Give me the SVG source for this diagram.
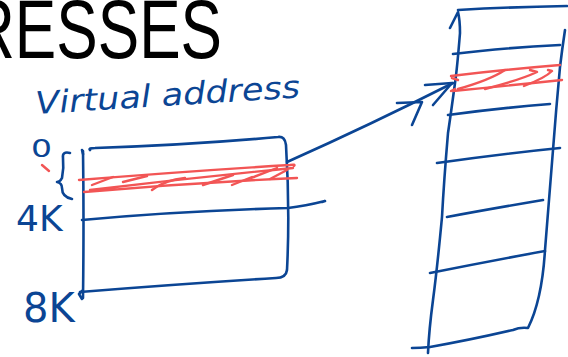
<svg xmlns="http://www.w3.org/2000/svg" width="568" height="357" viewBox="0 0 568 357">
<style>
.b{fill:none;stroke:#0b4594;stroke-width:2.6;stroke-linecap:round;stroke-linejoin:round}
.r{fill:none;stroke:#f25555;stroke-width:2.4;stroke-linecap:round;stroke-linejoin:round}
.h{font-family:"DejaVu Sans",sans-serif;font-weight:normal;fill:#0b4594}
</style>
<rect width="568" height="357" fill="#fff"/>
<text x="-30" y="58" font-family="Liberation Sans, sans-serif" font-size="84" textLength="252" lengthAdjust="spacingAndGlyphs" fill="#000">RESSES</text>
<text class="h" x="36" y="114" font-size="31" font-style="italic" textLength="265" lengthAdjust="spacingAndGlyphs" transform="rotate(-3.6 36 114)">Virtual address</text>
<g id="labels">
<text class="h" x="31" y="157" font-size="25" textLength="21" lengthAdjust="spacingAndGlyphs">0</text>
<text class="h" x="16" y="231" font-size="36">4K</text>
<text class="h" x="23" y="322" font-size="40">8K</text>
</g>
<g id="virtual">
<path class="b" d="M83,151 Q84,220 83,298"/>
<path class="b" d="M82,150 L83,154 M82,291 L79,294 L82,299"/>
<path class="b" d="M90,150 Q88,148 95,148 Q190,145 278,137 Q285,136 286,145 Q290,210 287,270 Q286,278 276,278 Q180,284 80,292"/>
<path class="b" d="M82,220 Q180,211 288,208 Q305,206 325,201 L322,202"/>
<path class="b" d="M70,153 Q62,151 63,158 Q64,168 62,178 Q60,182 57,182 Q62,183 62,188 Q62,197 72,199"/>
<path class="r" d="M42,165 L49,171"/>
<path class="r" d="M79,180 Q190,171 290,165 Q296,164 294,166 M84,192 Q190,183 297,178 M90,190 Q190,178 293,168"/>
<path class="r" d="M92,185 L113,177 M123,182 L147,176 M152,190 Q165,180 185,178 M203,185 L233,175 M232,185 L252,177 M246,180 L277,168 M270,179 L287,170"/>
</g>
<g id="connectors">
<path class="b" d="M287,162 Q370,125 453,83"/>
<path class="b" d="M425,85 L452,83 L433,105 M397,103 L422,102 L412,125"/>
</g>
<g id="physical">
<path class="b" d="M458,10 Q510,7 567,6 M450,28 L458,12 Q460,20 460,33 Q457,70 455,83 Q450,120 448,133 Q444,180 442,217 Q437,270 433,300 Q429,330 428,353"/>
<path class="b" d="M565,30 Q562,50 560,67 Q556,110 553,150 Q549,200 545,250 Q542,300 528,328 Q520,327 513,330 Q470,340 430,347 Q420,348 412,348"/>
<path class="b" d="M453,54 Q500,48 560,45 M448,115 Q500,108 550,104 M437,163 Q500,154 560,148 M447,217 Q490,209 543,200 M430,273 Q490,261 545,251"/>
<path class="r" d="M451,76 Q500,70 560,65 M453,91 Q505,86 562,80 M452,78 L458,80 M455,89 L451,91"/>
<path class="r" d="M458,89 Q490,80 505,70 M485,89 Q520,80 537,72 L530,70 M524,86 Q545,78 552,71 L548,70"/>
</g>
</svg>
